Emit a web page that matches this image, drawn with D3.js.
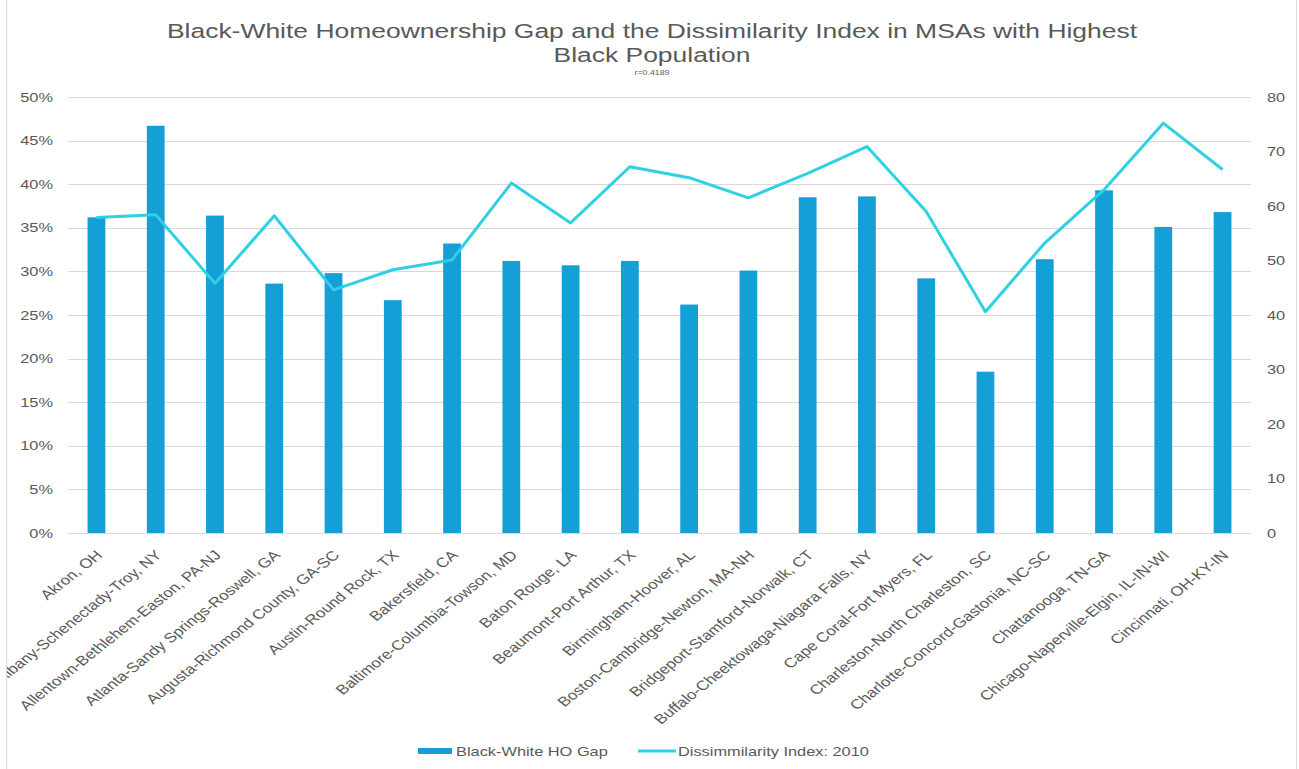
<!DOCTYPE html>
<html>
<head>
<meta charset="utf-8">
<script src="https://cdn.jsdelivr.net/npm/d3@7"></script>
<style>
body { margin: 0; background: #fff; }
svg { font-family: "Liberation Sans", Arial, sans-serif; }
</style>
</head>
<body>
<svg width="1299" height="769"></svg>
<script>
// chart data
var msas = ["Akron, OH", "Albany-Schenectady-Troy, NY", "Allentown-Bethlehem-Easton, PA-NJ",
  "Atlanta-Sandy Springs-Roswell, GA", "Augusta-Richmond County, GA-SC", "Austin-Round Rock, TX",
  "Bakersfield, CA", "Baltimore-Columbia-Towson, MD", "Baton Rouge, LA", "Beaumont-Port Arthur, TX",
  "Birmingham-Hoover, AL", "Boston-Cambridge-Newton, MA-NH", "Bridgeport-Stamford-Norwalk, CT",
  "Buffalo-Cheektowaga-Niagara Falls, NY", "Cape Coral-Fort Myers, FL", "Charleston-North Charleston, SC",
  "Charlotte-Concord-Gastonia, NC-SC", "Chattanooga, TN-GA", "Chicago-Naperville-Elgin, IL-IN-WI",
  "Cincinnati, OH-KY-IN"];
var hoGap = [0.362, 0.467, 0.364, 0.286, 0.298, 0.267, 0.332, 0.312, 0.307, 0.312,
  0.262, 0.301, 0.385, 0.386, 0.292, 0.185, 0.314, 0.393, 0.351, 0.368];
var dissim = [57.9, 58.4, 45.8, 58.2, 44.6, 48.3, 50.1, 64.2, 56.9, 67.2,
  65.2, 61.5, 66.0, 70.9, 59.0, 40.6, 53.2, 63.0, 75.2, 66.7];
var leftTicks = [0, 0.05, 0.10, 0.15, 0.20, 0.25, 0.30, 0.35, 0.40, 0.45, 0.50];
var rightTicks = [0, 10, 20, 30, 40, 50, 60, 70, 80];

var svg = d3.select("svg");
var plotLeft = 68, plotRight = 1251, plotTop = 97, plotBottom = 533;
var barColor = "#159fd7", lineColor = "#2fd0e2", textColor = "#595959";
var sx = 1.26; // the original picture is stretched wide, text too

// chart area clip (the long second label runs past the frame)
svg.append("clipPath").attr("id", "area")
  .append("rect").attr("x", 7).attr("y", 0).attr("width", 1289).attr("height", 769);

// chart frame
svg.append("rect").attr("x", 6.5).attr("y", -2).attr("width", 1290).attr("height", 772)
  .attr("fill", "none").attr("stroke", "#d9d9d9");

var x = d3.scaleBand().domain(msas).range([plotLeft, plotRight]).paddingInner(0.7).paddingOuter(0.33);
var yL = d3.scaleLinear().domain([0, 0.5]).range([plotBottom, plotTop]);
var yR = d3.scaleLinear().domain([0, 80]).range([plotBottom, plotTop]);

// gridlines
svg.append("g").selectAll("line").data(leftTicks).enter().append("line")
  .attr("x1", plotLeft).attr("x2", plotRight)
  .attr("y1", function(d) { return Math.round(yL(d)) + 0.5; })
  .attr("y2", function(d) { return Math.round(yL(d)) + 0.5; })
  .attr("stroke", "#d9d9d9").attr("stroke-width", 1);

// left axis
var yAxisL = d3.axisLeft(yL).tickValues(leftTicks).tickFormat(d3.format(".0%")).tickSize(0);
var gL = svg.append("g").attr("transform", "translate(" + plotLeft + ",0)").call(yAxisL);
gL.select(".domain").remove();
gL.selectAll("text").attr("x", 0).attr("transform", "translate(-15,0) scale(" + sx + ",1)")
  .attr("fill", textColor).style("font-size", "13px")
  .style("font-family", "Liberation Sans, Arial, sans-serif");

// right axis
var yAxisR = d3.axisRight(yR).tickValues(rightTicks).tickSize(0);
var gR = svg.append("g").attr("transform", "translate(" + plotRight + ",0)").call(yAxisR);
gR.select(".domain").remove();
gR.selectAll("text").attr("x", 0).attr("transform", "translate(16,0) scale(" + sx + ",1)")
  .attr("fill", textColor).style("font-size", "13px")
  .style("font-family", "Liberation Sans, Arial, sans-serif");

// bars
svg.append("g").selectAll("rect").data(msas).enter().append("rect")
  .attr("x", function(d) { return x(d); })
  .attr("width", x.bandwidth())
  .attr("y", function(d, i) { return yL(hoGap[i]); })
  .attr("height", function(d, i) { return plotBottom - yL(hoGap[i]); })
  .attr("fill", barColor);

// line
var line = d3.line()
  .x(function(d, i) { return x(msas[i]) + x.bandwidth() / 2; })
  .y(function(d) { return yR(d); });
svg.append("path").datum(dissim).attr("d", line)
  .attr("fill", "none").attr("stroke", lineColor).attr("stroke-width", 3)
  .attr("stroke-linejoin", "round");

// x labels
svg.append("g").attr("clip-path", "url(#area)")
  .selectAll("text").data(msas).enter().append("text")
  .attr("transform", function(d) {
    var cx = x(d) + x.bandwidth() / 2 + 7;
    return "translate(" + cx + ",556) scale(" + sx + ",1) rotate(-45)";
  })
  .attr("text-anchor", "end")
  .attr("fill", textColor)
  .style("font-size", "13.5px")
  .text(function(d) { return d; });

// title
function addText(px, py, size, anchor, str) {
  svg.append("text")
    .attr("transform", "translate(" + px + "," + py + ") scale(" + sx + ",1)")
    .attr("text-anchor", anchor)
    .attr("fill", textColor).style("font-size", size)
    .text(str);
}
addText(652, 38, "21px", "middle", "Black-White Homeownership Gap and the Dissimilarity Index in MSAs with Highest");
addText(652, 62, "21px", "middle", "Black Population");
addText(652, 75, "7px", "middle", "r=0.4189");

// legend
svg.append("rect").attr("x", 418).attr("y", 748).attr("width", 34).attr("height", 6).attr("fill", barColor);
addText(456, 756, "13px", "start", "Black-White HO Gap");
svg.append("line").attr("x1", 638).attr("x2", 676).attr("y1", 751).attr("y2", 751)
  .attr("stroke", lineColor).attr("stroke-width", 3);
addText(678, 756, "13px", "start", "Dissimmilarity Index: 2010");
</script>
</body>
</html>
